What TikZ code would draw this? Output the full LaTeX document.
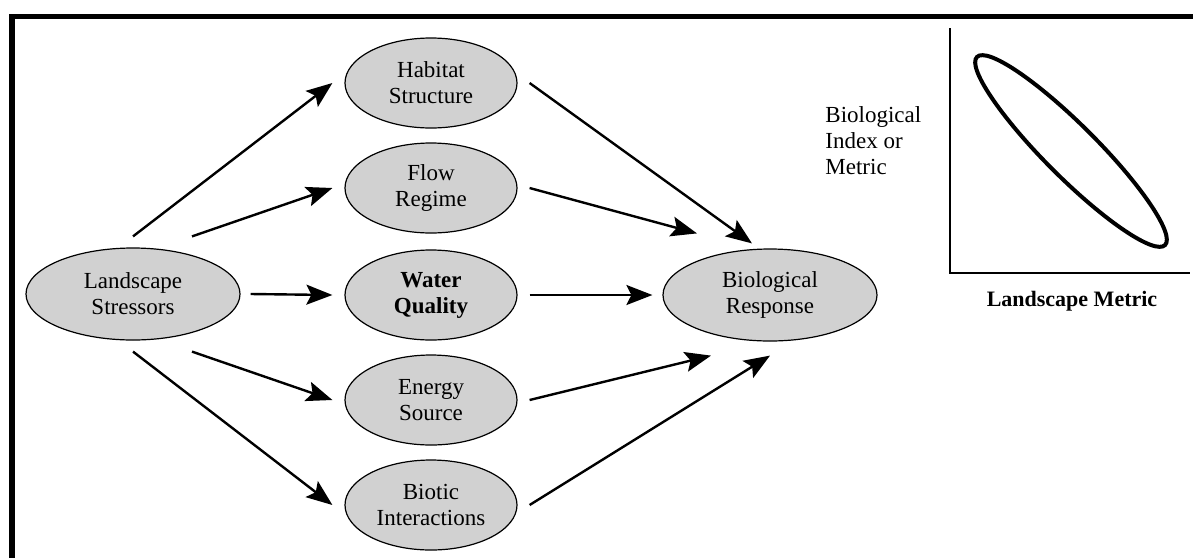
\documentclass[tikz,border=0pt]{standalone}
\usepackage{fontspec}
\setmainfont{Liberation Serif}
\usetikzlibrary{shapes.geometric,arrows.meta}
\tikzset{
    EL1/.style ={ellipse,minimum width = 86pt, minimum height = 45pt, inner sep=0pt, draw, line width=0.6pt, fill=black!18, align=center, font=\fontsize{11.5}{13}\selectfont},
    EL2/.style ={EL1, minimum width = 107pt, minimum height = 46pt},
    AR1/.style ={-{Stealth[length=13pt,width=10pt,inset=2.5pt]}, line width=1.2pt},
    TX1/.style ={inner sep=0pt, font=\fontsize{11.5}{13}\selectfont}}

\begin{document}
\begin{tikzpicture}[x=0.5pt,y=-0.5pt]
        \useasboundingbox (0,0) rectangle (1193,558);
        % frame
        \draw[line width=2.5pt] (9,16.5) -- (1193,16.5);
        \draw[line width=3pt] (12,14) -- (12,558);
        % nodes
        \draw (133,294) node[EL2] (ls) {Landscape\\Stressors};
        \draw (431,83) node[EL1] (hab) {Habitat\\Structure};
        \draw (431,188) node[EL1] (flow) {Flow\\Regime};
        \draw (431,295) node[EL1, font=\fontsize{11.5}{13}\selectfont\bfseries] (wq) {Water\\Quality};
        \draw (431,400) node[EL1] (en) {Energy\\Source};
        \draw (431,505) node[EL1] (bio) {Biotic\\Interactions};
        \draw (770,295) node[EL2] (br) {Biological\\Response};
        % arrows in
        \draw[AR1] ([yshift=5.5pt]ls.north) -- ([xshift=-6pt]hab.west);
        \draw[AR1] ([xshift=29.5pt,yshift=5.5pt]ls.north) -- ([xshift=-6pt]flow.west);
        \draw[AR1] ([xshift=5pt]ls.east) -- ([xshift=-6pt]wq.west);
        \draw[AR1] ([xshift=29.5pt,yshift=-5.5pt]ls.south) -- ([xshift=-6pt]en.west);
        \draw[AR1] ([yshift=-5.5pt]ls.south) -- ([xshift=-6pt]bio.west);
        % arrows out
        \draw[AR1] ([xshift=6pt]hab.east) -- ([xshift=-9pt,yshift=2.5pt]br.north);
        \draw[AR1] ([xshift=6pt]flow.east) -- ([xshift=-36.5pt,yshift=7.5pt]br.north);
        \draw[AR1] ([xshift=6pt]wq.east) -- ([xshift=-5pt]br.west);
        \draw[AR1] ([xshift=6pt]en.east) -- ([xshift=-29.5pt,yshift=-7pt]br.south);
        \draw[AR1] ([xshift=6pt]bio.east) -- ([yshift=-7pt]br.south);
        % small plot
        \node[TX1, align=left, anchor=north west] (ylab) at (825,106) {Biological\\Index or\\Metric};
        \node[TX1, font=\fontsize{11}{13}\selectfont\bfseries] (xlab) at (1072,301) {Landscape Metric};
        \draw[line width=1pt] (950,28) -- (950,273) -- (1190,273);
        \draw[line width=2pt, rotate around={-45:(1071,151)}] (1071,151) ellipse [x radius=133, y radius=26];
    \end{tikzpicture}
\end{document}
